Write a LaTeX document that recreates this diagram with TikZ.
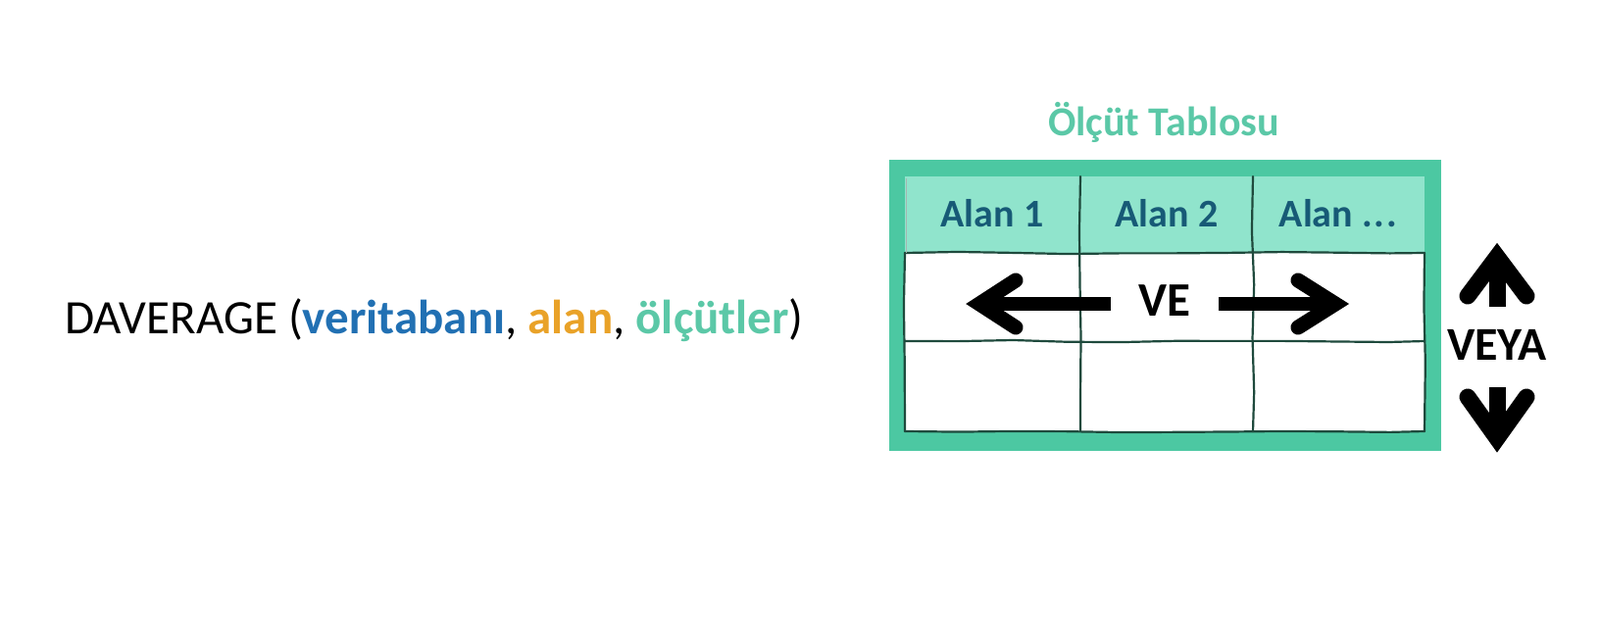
\documentclass[tikz,border=0pt]{standalone}
\usepackage{fontspec}
\setmainfont{Carlito}
\usetikzlibrary{decorations.pathmorphing}
\definecolor{fblue}{HTML}{2170B3}
\definecolor{forange}{HTML}{E9A228}
\definecolor{fteal}{HTML}{5BC8A7}
\definecolor{frame}{HTML}{4CC8A2}
\definecolor{headfill}{HTML}{90E4CC}
\definecolor{headtxt}{HTML}{175A76}
\definecolor{gridc}{HTML}{1F4A3D}
\tikzset{
  sketch/.style={draw=gridc, line width=2.2pt, line cap=round,
    decorate, decoration={random steps, segment length=55pt, amplitude=1.2pt}},
  headlbl/.style={anchor=base, text=headtxt, font=\fontsize{40}{44}\selectfont\bfseries},
  bigsym/.style={anchor=base, text=black, font=\fontsize{49}{52}\selectfont\bfseries},
  shaft/.style={draw=black, line width=14pt, line cap=butt},
  vshaft/.style={draw=black, line width=17pt, line cap=butt},
  chev/.style={draw=black, line width=15pt, line cap=round, line join=miter},
  vchev/.style={draw=black, line width=17pt, line cap=round, line join=miter}
}
\begin{document}
\begin{tikzpicture}[x=1pt,y=-1pt]
\useasboundingbox (0,0) rectangle (1632,656);
% formula
\node[anchor=base west, inner sep=0pt, font=\fontsize{49}{52}\selectfont] (formula) at (66,340)
  {DAVERAGE (\textcolor{fblue}{\bfseries veritabanı}, \textcolor{forange}{\bfseries alan}, \textcolor{fteal}{\bfseries ölçütler})};
% title
\node[anchor=base, inner sep=0pt, text=fteal, font=\fontsize{42}{45}\selectfont\bfseries] (title) at (1187,138) {Ölçüt Tablosu};
% frame
\fill[frame] (907,163) rectangle (1470,460);
\fill[white] (923,180) rectangle (1453,440);
\fill[headfill] (923,180) rectangle (1453,258);
% grid
\draw[sketch] (923,258) -- (1453,258);
\draw[sketch] (923,348) -- (1453,348);
\draw[sketch] (923,440) -- (1453,440);
\draw[sketch] (923,258) -- (923,440);
\draw[sketch] (1453,258) -- (1453,440);
\draw[sketch] (1102,180) -- (1102,440);
\draw[sketch] (1278,180) -- (1278,440);
\draw[draw=gridc!40, line width=1pt] (924,182) -- (924,258);
% header labels
\node[headlbl] (h1) at (1012,231) {Alan 1};
\node[headlbl] (h2) at (1190,231) {Alan 2};
\node[headlbl] (h3) at (1365,231) {Alan .\kern2pt.\kern2pt.};
% VE
\node[bigsym] (ve) at (1188,322) {VE};
\coordinate (lstart) at (1133,310);
\coordinate (ltip) at (999,310);
\coordinate (rstart) at (1243,310);
\coordinate (rtip) at (1362,310);
\draw[shaft] (lstart) -- (ltip);
\draw[chev] (1036,286) -- (ltip) -- (1036,334);
\draw[shaft] (rstart) -- (rtip);
\draw[chev] (1324,286) -- (rtip) -- (1324,334);
% VEYA
\node[bigsym, font=\fontsize{48}{52}\selectfont\bfseries] (veya) at (1527,367) {VEYA};
\coordinate (ustart) at (1527,313);
\coordinate (utip) at (1527,262);
\coordinate (dstart) at (1527,395);
\coordinate (dtip) at (1527,447);
\draw[vshaft] (ustart) -- (utip);
\draw[vchev] (1497,302) -- (utip) -- (1557,302);
\draw[vshaft] (dstart) -- (dtip);
\draw[vchev] (1497,405) -- (dtip) -- (1557,405);
\end{tikzpicture}
\end{document}
